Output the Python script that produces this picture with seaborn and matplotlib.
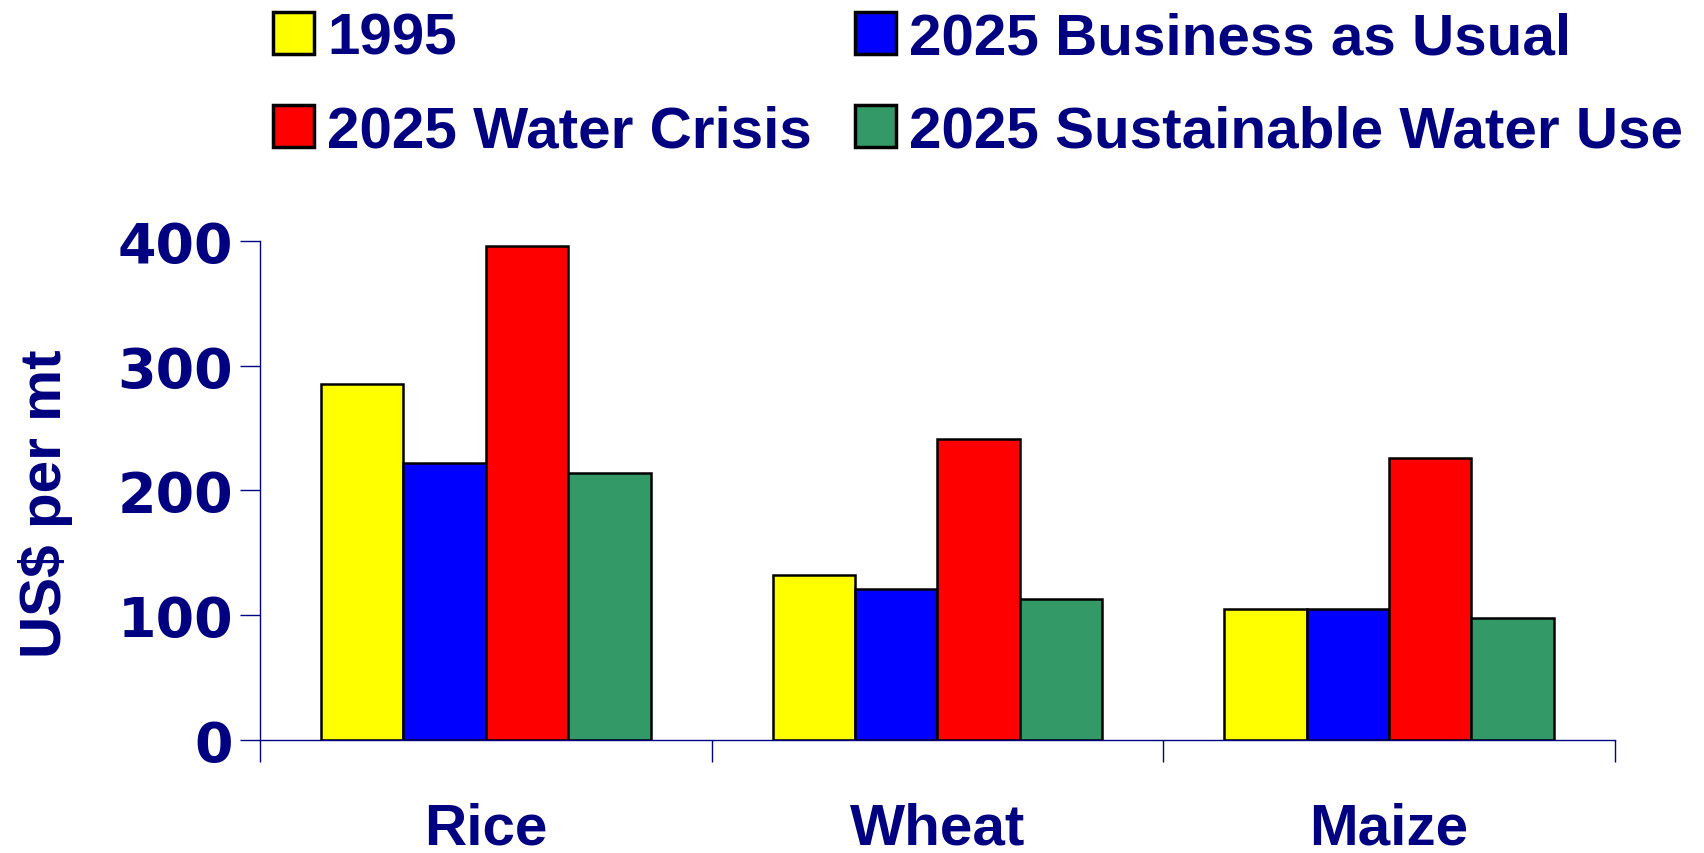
import pandas as pd
import seaborn as sns
import matplotlib.pyplot as plt
from matplotlib.patches import Patch
from matplotlib.ticker import FixedLocator

# values (US$ per metric ton)
crops = ['Rice', 'Wheat', 'Maize']
scenarios = ['1995', '2025 Business as Usual', '2025 Water Crisis', '2025 Sustainable Water Use']
price_1995 = [285, 132, 105]
price_bau = [222, 121, 105]
price_crisis = [396, 241, 226]
price_sustainable = [214, 113, 98]
yticks = [0, 100, 200, 300, 400]

colors = ['#FFFF00', '#0000FF', '#FF0000', '#339966']
NAVY = '#000080'

rows = []
for scen, vals in zip(scenarios, [price_1995, price_bau, price_crisis, price_sustainable]):
    for crop, v in zip(crops, vals):
        rows.append({'crop': crop, 'scenario': scen, 'price': v})
df = pd.DataFrame(rows)

sns.set_style('white')
plt.rcParams['font.family'] = ['Liberation Sans', 'DejaVu Sans']
plt.rcParams['font.weight'] = 'bold'

fig = plt.figure(figsize=(17.04, 8.54), dpi=100)
ax = fig.add_axes([0.1526, 0.132, 0.795, 0.585])

sns.barplot(data=df, x='crop', y='price', hue='scenario', order=crops,
            hue_order=scenarios, palette=colors, saturation=1, width=0.73,
            edgecolor='black', linewidth=1.8, legend=False, ax=ax)

ax.set_ylim(0, 400)
ax.set_xlim(-0.5, 2.5)
ax.set_yticks(yticks)
# the reference digits are wide, DejaVu bold comes closer than Arial
ax.set_yticklabels([str(t) for t in yticks], fontsize=40, fontweight='bold',
                   color=NAVY, family='DejaVu Sans')
ax.tick_params(axis='y', length=14.5, width=1, color=NAVY, pad=5, left=True)

# category labels without marks, boundary ticks as minor ticks
ax.set_xticks(range(len(crops)))
ax.set_xticklabels(crops, fontsize=42, fontweight='bold', color=NAVY)
ax.tick_params(axis='x', which='major', length=0, pad=44)
ax.xaxis.set_minor_locator(FixedLocator([-0.5, 0.5, 1.5, 2.5]))
ax.tick_params(axis='x', which='minor', length=16, width=1, color=NAVY, bottom=True)

for side in ['top', 'right']:
    ax.spines[side].set_visible(False)
for side in ['left', 'bottom']:
    ax.spines[side].set_color(NAVY)
    ax.spines[side].set_linewidth(1)

ax.set_xlabel('')
ax.set_ylabel('US$ per mt', fontsize=42, fontweight='bold', color=NAVY)
ax.yaxis.set_label_coords(-0.138, 0.475)

# legend: column order gives 1995 / Water Crisis on the left
order = [0, 2, 1, 3]
handles = [Patch(facecolor=colors[i], edgecolor='black', linewidth=2.5) for i in order]
labels = [scenarios[i] for i in order]
leg = fig.legend(handles, labels, ncol=2, loc='upper left', bbox_to_anchor=(0.133, 1.04),
                 frameon=False, prop={'size': 42, 'weight': 'bold'},
                 handlelength=0.70, handleheight=0.72, handletextpad=0.22,
                 columnspacing=0.74, labelspacing=0.67, borderpad=0.3)
for t in leg.get_texts():
    t.set_color(NAVY)

fig.savefig('out.png', dpi=100)
